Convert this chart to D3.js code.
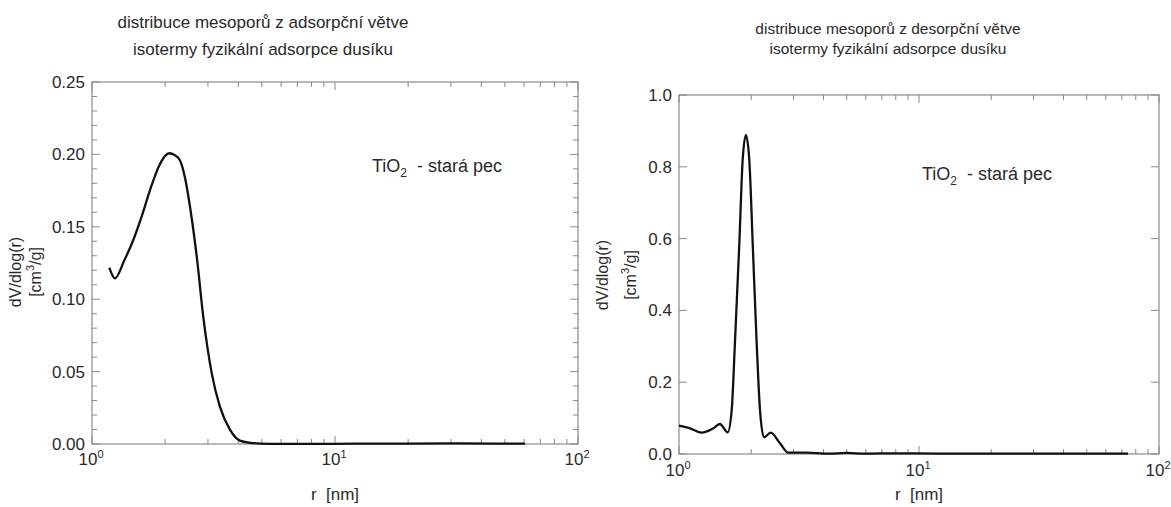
<!DOCTYPE html>
<html>
<head>
<meta charset="utf-8">
<script src="https://cdn.jsdelivr.net/npm/d3@7/dist/d3.min.js"></script>
<style>
  body { margin: 0; background: #fff; }
  text { font-family: "Liberation Sans", Arial, sans-serif; fill: #2a2a2a; }
</style>
</head>
<body>
<div id="chart"></div>
<script>
// adsorption branch (left)
var adsR = [1.178, 1.243, 1.36, 1.479, 1.6, 1.733, 1.9, 2.0, 2.08, 2.19, 2.3, 2.42, 2.53, 2.70, 2.87, 3.11, 3.36, 3.70, 4.06, 4.5, 4.91, 6, 8, 12, 20, 30, 45, 60.5];
var adsV = [0.1218, 0.1144, 0.127, 0.1409, 0.157, 0.1754, 0.193, 0.199, 0.2008, 0.1995, 0.196, 0.183, 0.164, 0.129, 0.0879, 0.0488, 0.0258, 0.0097, 0.0023, 0.0008, 0.0003, 0.0001, 0.0001, 0.0002, 0.0003, 0.0005, 0.0003, 0.0002];

// desorption branch (right)
var desR = [1.0, 1.111, 1.243, 1.39, 1.48, 1.596, 1.658, 1.71, 1.784, 1.842, 1.90, 1.963, 2.028, 2.107, 2.175, 2.26, 2.41, 2.636, 2.85, 3.4, 4.2, 5.0, 6.0, 8, 12, 20, 40, 74.3];
var desV = [0.079, 0.0716, 0.0593, 0.0716, 0.0836, 0.0604, 0.1226, 0.308, 0.587, 0.819, 0.889, 0.819, 0.587, 0.308, 0.1226, 0.0465, 0.0593, 0.0298, 0.0036, 0.004, 0.001, 0.003, 0.001, 0.002, 0.001, 0.001, 0.001, 0.001];

var titleLeft = ["distribuce mesoporů z adsorpční větve", "isotermy fyzikální adsorpce dusíku"];
var titleRight = ["distribuce mesoporů z desorpční větve", "isotermy fyzikální adsorpce dusíku"];

var leftYTicks = [0, 0.05, 0.10, 0.15, 0.20, 0.25];
var rightYTicks = [0, 0.2, 0.4, 0.6, 0.8, 1.0];
var xMajor = [1, 10, 100];

var svg = d3.select("#chart").append("svg")
  .attr("width", 1171)
  .attr("height", 507);

function drawPanel(opt) {
  var g = svg.append("g");
  var x = d3.scaleLog().domain([1, 100]).range([opt.x0, opt.x1]);
  var y = d3.scaleLinear().domain([0, opt.yMax]).range([opt.y1, opt.y0]);

  // frame
  g.append("rect")
    .attr("x", opt.x0).attr("y", opt.y0)
    .attr("width", opt.x1 - opt.x0).attr("height", opt.y1 - opt.y0)
    .attr("fill", "none").attr("stroke", "#8a8a8a").attr("stroke-width", 1.2);

  // x ticks, inward, top and bottom
  var xMinor = [];
  [1, 10].forEach(function(d) {
    for (var k = 2; k <= 9; k++) xMinor.push(d * k);
  });
  var xt = xMajor.map(function(d) { return { v: d, len: 8 }; })
    .concat(xMinor.map(function(d) { return { v: d, len: 5 }; }));
  xt.forEach(function(t) {
    var px = x(t.v);
    g.append("line").attr("x1", px).attr("x2", px).attr("y1", opt.y1).attr("y2", opt.y1 - t.len)
      .attr("stroke", "#8a8a8a");
    g.append("line").attr("x1", px).attr("x2", px).attr("y1", opt.y0).attr("y2", opt.y0 + t.len)
      .attr("stroke", "#8a8a8a");
  });

  // y ticks, inward, left and right
  var yt = [];
  if (opt.yMinorStep) {
    var n = Math.round(opt.yMax / opt.yMinorStep);
    for (var i = 0; i <= n; i++) yt.push(i * opt.yMinorStep);
  } else {
    yt = opt.yTicks.slice();
  }
  yt.forEach(function(v) {
    var major = opt.yTicks.some(function(m) { return Math.abs(m - v) < 1e-9; });
    var len = major ? 8 : 5;
    var py = y(v);
    g.append("line").attr("x1", opt.x0).attr("x2", opt.x0 + len).attr("y1", py).attr("y2", py)
      .attr("stroke", "#8a8a8a");
    g.append("line").attr("x1", opt.x1).attr("x2", opt.x1 - len).attr("y1", py).attr("y2", py)
      .attr("stroke", "#8a8a8a");
  });

  // y labels
  g.selectAll(".ylab").data(opt.yTicks).enter().append("text")
    .attr("x", opt.x0 - 7)
    .attr("y", function(d) { return y(d) + 6; })
    .attr("text-anchor", "end")
    .style("font-size", "17px")
    .text(function(d) { return d3.format(opt.yFmt)(d); });

  // x labels 10^n
  xMajor.forEach(function(d, i) {
    var t = g.append("text")
      .attr("x", x(d) - 1)
      .attr("y", opt.xLabY)
      .attr("text-anchor", "middle")
      .style("font-size", "17px");
    t.append("tspan").text("10");
    t.append("tspan").attr("dy", -7).style("font-size", "11px").text(String(i));
  });

  // axis titles
  g.append("text")
    .attr("x", (opt.x0 + opt.x1) / 2)
    .attr("y", 500)
    .attr("text-anchor", "middle")
    .style("font-size", "17px")
    .attr("xml:space", "preserve")
    .text("r  [nm]");

  var yl = g.append("g")
    .attr("transform", "translate(" + opt.yLabX + "," + opt.yLabY + ") rotate(-90)");
  yl.append("text").attr("text-anchor", "middle").attr("y", 0)
    .style("font-size", "16px").text("dV/dlog(r)");
  var yl2 = yl.append("text").attr("text-anchor", "middle").attr("y", opt.yLabGap)
    .style("font-size", "16px");
  yl2.append("tspan").text("[cm");
  yl2.append("tspan").attr("dy", -7).style("font-size", "11px").text("3");
  yl2.append("tspan").attr("dy", 7).text("/g]");

  // titles
  opt.title.forEach(function(s, i) {
    g.append("text")
      .attr("x", opt.titleX)
      .attr("y", opt.titleY[i])
      .attr("text-anchor", "middle")
      .style("font-size", opt.titleSize)
      .text(s);
  });

  // annotation
  var an = g.append("text")
    .attr("x", opt.annX).attr("y", opt.annY)
    .style("font-size", "18px")
    .attr("xml:space", "preserve");
  an.append("tspan").text("TiO");
  an.append("tspan").attr("dy", 5).style("font-size", "12px").text("2");
  an.append("tspan").attr("dy", -5).text("  - stará pec");

  // curve
  var pts = opt.r.map(function(d, i) { return [d, opt.v[i]]; });
  var line = d3.line()
    .x(function(d) { return x(d[0]); })
    .y(function(d) { return y(d[1]); })
    .curve(d3.curveMonotoneX);
  g.append("path")
    .datum(pts)
    .attr("d", line)
    .attr("fill", "none")
    .attr("stroke", "#111")
    .attr("stroke-width", 2.3)
    .attr("stroke-linejoin", "round");
}

drawPanel({
  x0: 92, x1: 578, y0: 82, y1: 444,
  yMax: 0.25, yTicks: leftYTicks, yMinorStep: 0.01, yFmt: ".2f",
  xLabY: 465, yLabX: 21, yLabY: 272, yLabGap: 20,
  title: titleLeft, titleX: 263, titleY: [28, 55], titleSize: "17px",
  annX: 372, annY: 172,
  r: adsR, v: adsV
});

drawPanel({
  x0: 679, x1: 1159, y0: 95, y1: 454,
  yMax: 1.0, yTicks: rightYTicks, yMinorStep: 0, yFmt: ".1f",
  xLabY: 476, yLabX: 608, yLabY: 275, yLabGap: 28,
  title: titleRight, titleX: 888, titleY: [34, 54], titleSize: "15.5px",
  annX: 922, annY: 180,
  r: desR, v: desV
});
</script>
</body>
</html>
